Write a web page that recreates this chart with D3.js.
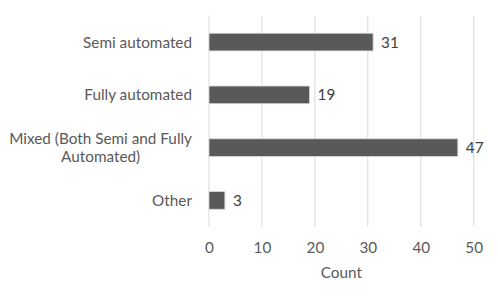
<!DOCTYPE html>
<html><head><meta charset="utf-8">
<script src="https://cdn.jsdelivr.net/npm/d3@7"></script>
<style>body{margin:0;background:#fff}svg{display:block}</style>
</head><body><svg id="c" width="498" height="300"></svg>
<script>
const categories = ["Semi automated", "Fully automated", "Mixed (Both Semi and Fully Automated)", "Other"];
const categoryLines = [["Semi automated"], ["Fully automated"], ["Mixed (Both Semi and Fully", "Automated)"], ["Other"]];
const values = [31, 19, 47, 3];
const xTicks = [0, 10, 20, 30, 40, 50];
const xTitle = "Count";

const svg = d3.select("#c");
const font = "Lato, 'Open Sans', sans-serif";
const fs = 15.3;
const txt = "#595959";
const m = {left: 209, right: 498 - 473.7, top: 15.7, bottom: 300 - 226.8};
const x = d3.scaleLinear().domain([0, 50]).range([m.left, 498 - m.right]);
const y = d3.scaleBand().domain(categories).range([m.top, 300 - m.bottom]).paddingInner(0.665).paddingOuter(0.3325);

// gridlines
svg.append("g").selectAll("line").data(xTicks).join("line")
  .attr("x1", d => x(d)).attr("x2", d => x(d))
  .attr("y1", m.top).attr("y2", 300 - m.bottom)
  .attr("stroke", "#d9d9d9").attr("stroke-width", 1);

// x axis labels
const xa = svg.append("g").attr("transform", `translate(0,${300 - m.bottom})`)
  .call(d3.axisBottom(x).tickValues(xTicks).tickSize(0).tickPadding(15).tickFormat(d3.format("d")));
xa.select(".domain").remove();
xa.selectAll("text").attr("font-family", font).attr("font-size", fs).attr("fill", txt);

svg.append("text").attr("x", (x(0) + x(50)) / 2).attr("y", 277.5)
  .attr("text-anchor", "middle").attr("font-family", font).attr("font-size", fs).attr("fill", txt).text(xTitle);

// bars
svg.append("g").selectAll("rect").data(values).join("rect")
  .attr("x", x(0)).attr("y", (d, i) => y(categories[i]))
  .attr("width", d => x(d) - x(0)).attr("height", y.bandwidth())
  .attr("fill", "#595959").attr("stroke", "#d9d9d9").attr("stroke-width", 0.8);

// value labels
svg.append("g").selectAll("text").data(values).join("text")
  .attr("x", d => x(d) + 8).attr("y", (d, i) => y(categories[i]) + y.bandwidth() / 2)
  .attr("dy", "0.36em").attr("font-family", font).attr("font-size", fs).attr("fill", "#404040").text(d => d);

// category labels
const cl = svg.append("g").selectAll("text").data(categories).join("text")
  .attr("font-family", font).attr("font-size", fs).attr("fill", txt).attr("text-anchor", "middle");
cl.each(function(d, i) {
  const lines = categoryLines[i];
  const t = d3.select(this);
  const cy = y(d) + y.bandwidth() / 2;
  const lh = 18;
  const y0 = cy - (lines.length - 1) * lh / 2;
  lines.forEach((l, j) => t.append("tspan").attr("y", y0 + j * lh).attr("dy", "0.36em").text(l));
  let maxW = 0;
  t.selectAll("tspan").each(function() { maxW = Math.max(maxW, this.getComputedTextLength()); });
  t.selectAll("tspan").attr("x", 192 - maxW / 2);
});
</script></body></html>
